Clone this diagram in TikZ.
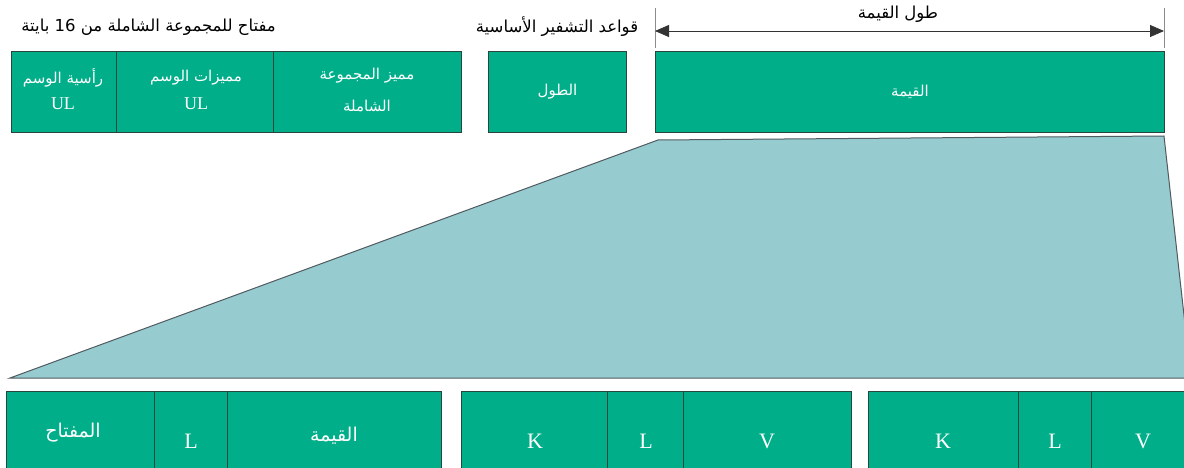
\documentclass[tikz,border=0pt]{standalone}
\usepackage{fontspec}
\setmainfont{Liberation Serif}
\newfontfamily\arf[Script=Arabic]{DejaVu Sans}
\TeXXeTstate=1
\usetikzlibrary{arrows.meta}
\newcommand\AR[1]{{\arf\beginR #1\endR}}
\definecolor{grn}{RGB}{0,174,138}
\definecolor{edgec}{RGB}{40,70,62}
\definecolor{trap}{RGB}{150,203,208}
\definecolor{trapedge}{RGB}{80,90,95}
\tikzset{
  cell/.style={draw=edgec, line width=1pt, fill=grn, text=white, inner sep=0pt, anchor=north west, align=center},
  top/.style={cell, minimum height=81pt},
  bot/.style={cell, minimum height=77pt},
  arlbl/.style={font=\arf\fontsize{15}{18}\selectfont, text=white, align=center},
  arbig/.style={font=\arf\fontsize{19}{22}\selectfont, text=white, align=center},
  ttl/.style={font=\arf\fontsize{16.5}{19}\selectfont, text=black, inner sep=0pt},
  latn/.style={font=\fontsize{22}{24}\selectfont, text=white},
  latsm/.style={font=\fontsize{18}{20}\selectfont},
  dim/.style={draw=black!80, line width=0.8pt, {Triangle[length=14pt,width=12pt]}-{Triangle[length=14pt,width=12pt]}},
  tick/.style={draw=black!45, line width=0.6pt}
}
\begin{document}
\begin{tikzpicture}[x=1pt,y=-1pt]
\useasboundingbox (0,0) rectangle (1184,468);
\fill[white] (0,0) rectangle (1184,468);
\begin{scope}
\clip (0,0) rectangle (1184,468);
% trapezoid
\draw[fill=trap, draw=trapedge, line width=1pt] (10,378) -- (658,140) -- (1164,136) -- (1191,378) -- cycle;

% top-left group
\node[top, minimum width=105pt] (ul1) at (11,51) {};
\node[top, minimum width=157pt] (ul2) at (116,51) {};
\node[top, minimum width=188pt] (ul3) at (273,51) {};
\node[arlbl] (t1) at (63,78) {\AR{رأسية الوسم}};
\node[latsm, text=white] (t1b) at (63,104) {UL};
\node[arlbl] (t2) at (196,78) {\AR{مميزات الوسم}};
\node[latsm, text=white] (t2b) at (196,104) {UL};
\node[arlbl] (t3) at (367,76) {\AR{مميز المجموعة}};
\node[arlbl] (t3b) at (367,106) {\AR{الشاملة}};
\node[ttl, anchor=east] (title1) at (276,27) {\AR{مفتاح للمجموعة الشاملة من \beginL 16\endL{} بايتة}};

% length box
\node[top, minimum width=138pt] (len) at (488,51) {};
\node[arlbl] at (len.center) {\AR{الطول}};
\node[ttl] (title2) at (557,27) {\AR{قواعد التشفير الأساسية}};

% value box
\node[top, minimum width=509pt] (val) at (655,51) {};
\node[arlbl] at (val.center) {\AR{القيمة}};
\coordinate (tl) at (655,8);
\coordinate (tr) at (1164,8);
\coordinate (bl) at (655,48);
\coordinate (br) at (1164,48);
\coordinate (al) at (655,31);
\coordinate (ar) at (1164,31);
\draw[tick] (tl) -- (bl);
\draw[tick] (tr) -- (br);
\draw[dim] (al) -- (ar);
\node[ttl] (title3) at (898,14) {\AR{طول القيمة}};

% bottom group 1
\node[bot, minimum width=148pt] (k1) at (6,391) {};
\node[bot, minimum width=73pt] (l1) at (154,391) {};
\node[bot, minimum width=214pt] (v1) at (227,391) {};
\node[arbig] at (73,433) {\AR{المفتاح}};
\node[latn] at (191,441) {L};
\node[arbig] at (334,436) {\AR{القيمة}};

% bottom group 2
\node[bot, minimum width=146pt] (k2) at (461,391) {};
\node[bot, minimum width=76pt] (l2) at (607,391) {};
\node[bot, minimum width=168pt] (v2) at (683,391) {};
\node[latn] at (535,441) {K};
\node[latn] at (646,441) {L};
\node[latn] at (767,441) {V};

% bottom group 3
\node[bot, minimum width=150pt] (k3) at (868,391) {};
\node[bot, minimum width=73pt] (l3) at (1018,391) {};
\node[bot, minimum width=110pt] (v3) at (1091,391) {};
\node[latn] at (943,441) {K};
\node[latn] at (1055,441) {L};
\node[latn] at (1143,441) {V};
\end{scope}
\end{tikzpicture}
\end{document}
